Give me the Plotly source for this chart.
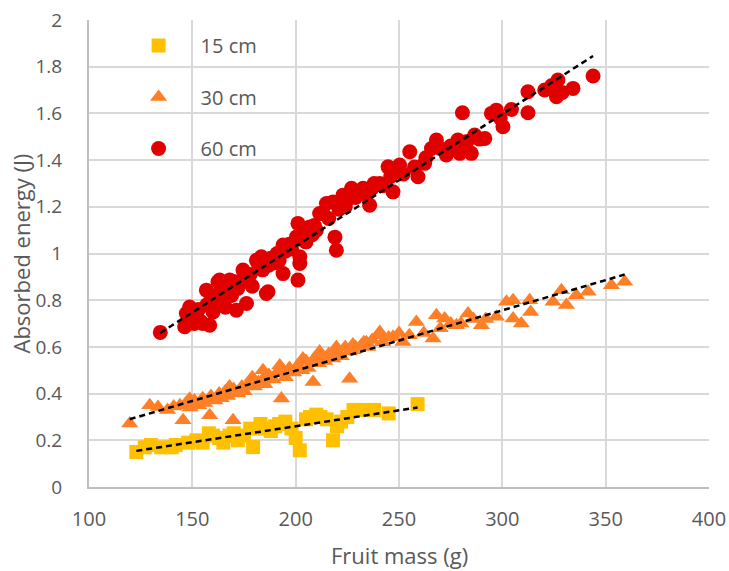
import numpy as np
import plotly.graph_objects as go

# ---- data ----
mass_15 = [122.9, 127, 130, 135, 140, 142, 148, 152, 155, 158, 160, 163, 165, 168, 170, 172,
           175, 178, 179.4, 183, 185, 188, 190, 192, 195, 198, 200, 202, 205, 207, 210, 212,
           215, 218.1, 220, 222, 225, 228, 232.6, 238, 245, 259]
energy_15 = [0.150, 0.17, 0.18, 0.17, 0.17, 0.18, 0.19, 0.20, 0.19, 0.23, 0.22, 0.21, 0.19, 0.22, 0.23, 0.20,
             0.22, 0.25, 0.171, 0.27, 0.25, 0.24, 0.26, 0.27, 0.28, 0.25, 0.21, 0.157, 0.29, 0.30, 0.31, 0.30,
             0.29, 0.200, 0.26, 0.28, 0.30, 0.33, 0.33, 0.33, 0.315, 0.355]

mass_30 = [119.7, 129.4, 133.4, 138, 141, 144, 145.5, 147, 148.7, 149, 151, 153, 155, 156, 158.4, 159, 161,
           163, 164, 166, 167, 168, 169.7, 170, 172, 174, 175, 177, 179, 180, 182, 184, 184.2, 185, 187,
           189, 191, 192.3, 193.1, 194, 195, 197, 199, 201, 203, 203.5, 205, 206, 208.4, 209, 211, 211.6, 213, 214,
           216, 218, 219.7, 220, 222, 224, 226.1, 226, 227.7, 227.7, 229, 231.8, 233, 234.2, 235, 237, 240.7, 240.7,
           242, 245, 247.1, 250, 251.9, 255, 258.4, 262, 266.5, 268.1, 270, 272.1, 275, 277.8, 280, 283.4,
           286, 289.9, 292, 297.1, 302, 305.2, 305.2, 309.2, 313.2, 313.7, 324.5, 328.6, 331, 335.8,
           341.5, 352.8, 359.2]
energy_30 = [0.272, 0.35, 0.343, 0.33, 0.345, 0.35, 0.286, 0.36, 0.378, 0.34, 0.37, 0.35, 0.38, 0.36, 0.307, 0.39, 0.37,
             0.40, 0.38, 0.41, 0.39, 0.43, 0.286, 0.42, 0.40, 0.43, 0.41, 0.44, 0.47, 0.43, 0.45, 0.46, 0.50, 0.44, 0.48,
             0.46, 0.49, 0.52, 0.379, 0.50, 0.47, 0.51, 0.49, 0.52, 0.50, 0.55, 0.54, 0.51, 0.45, 0.55, 0.53, 0.58, 0.56, 0.54,
             0.57, 0.55, 0.60, 0.58, 0.56, 0.60, 0.464, 0.58, 0.586, 0.61, 0.60, 0.607, 0.62, 0.62, 0.60, 0.63, 0.664, 0.65,
             0.62, 0.64, 0.643, 0.66, 0.621, 0.65, 0.707, 0.66, 0.636, 0.736, 0.68, 0.722, 0.70, 0.693, 0.70, 0.743,
             0.72, 0.693, 0.72, 0.729, 0.793, 0.80, 0.722, 0.70, 0.80, 0.75, 0.793, 0.843, 0.779, 0.821,
             0.836, 0.864, 0.879]

mass_60 = [134.5, 146.3, 147.1, 148.7, 150, 151, 152, 153, 154, 155, 156.8, 157, 158.4, 159, 160, 161,
           162.4, 163.2, 164, 165, 166, 167, 168.1, 169, 170, 171.3, 172, 174.5, 175.3, 176.2, 177, 178,
           179, 181, 181.8, 183.4, 184, 185.8, 186.6, 187, 188, 190, 191, 192, 193.9, 193.9, 195, 197,
           198, 200.4, 201.1, 202, 202, 201.1, 203, 204, 205, 206.8, 208, 209, 210, 211.6, 213.2, 214.9,
           216, 218.1, 219.7, 219, 221, 222.9, 224, 225, 227, 229, 230, 232.6, 234, 235.8, 237, 238,
           240.7, 242, 244.7, 246, 247.1, 248, 250.3, 252, 255.2, 257.5, 259.2, 262.4, 263, 265.7, 268.1, 270,
           272.9, 275, 278.5, 279.4, 280.7, 283, 285, 286.6, 289, 291.5, 294.7, 297.1, 299, 300.3, 304.4,
           312.4, 312.4, 320.5, 324, 326.2, 326.9, 329, 334.2, 343.9]
energy_60 = [0.662, 0.686, 0.743, 0.771, 0.72, 0.70, 0.74, 0.76, 0.71, 0.70, 0.843, 0.78, 0.693, 0.80, 0.75, 0.82,
             0.879, 0.886, 0.80, 0.84, 0.77, 0.86, 0.886, 0.82, 0.88, 0.757, 0.85, 0.929, 0.90, 0.786, 0.88, 0.91,
             0.86, 0.971, 0.957, 0.986, 0.93, 0.829, 0.836, 0.95, 0.98, 0.96, 1.00, 0.97, 1.036, 0.914, 1.01, 1.04,
             1.02, 1.071, 0.886, 0.957, 0.986, 1.129, 1.06, 1.09, 1.05, 1.114, 1.08, 1.12, 1.10, 1.171, 1.171, 1.214,
             1.15, 1.221, 1.014, 1.07, 1.19, 1.250, 1.20, 1.23, 1.279, 1.24, 1.26, 1.279, 1.25, 1.207, 1.28, 1.30,
             1.300, 1.29, 1.371, 1.33, 1.264, 1.35, 1.379, 1.34, 1.436, 1.37, 1.329, 1.386, 1.41, 1.450, 1.486, 1.45,
             1.422, 1.46, 1.486, 1.429, 1.603, 1.48, 1.429, 1.507, 1.49, 1.493, 1.600, 1.614, 1.58, 1.543, 1.617,
             1.693, 1.603, 1.700, 1.72, 1.671, 1.743, 1.69, 1.707, 1.760]

series_names = ["15 cm", "30 cm", "60 cm"]
x_ticks = [100, 150, 200, 250, 300, 350, 400]
y_ticks = [0, 0.2, 0.4, 0.6, 0.8, 1, 1.2, 1.4, 1.6, 1.8, 2]
y_ticktext = ["0", "0.2", "0.4", "0.6", "0.8", "1", "1.2", "1.4", "1.6", "1.8", "2"]
x_title = "Fruit mass (g)"
y_title = "Absorbed energy (J)"

# ---- styles ----
colors = ["#FFC000", "#FF7F27", "#E00000"]
symbols = ["square", "triangle-up", "circle"]
sizes = [14, 15, 15]
FONT = "Open Sans"
GREY = "#595959"

fig = go.Figure()
data = [(mass_15, energy_15), (mass_30, energy_30), (mass_60, energy_60)]
for i, (xs, ys) in enumerate(data):
    fig.add_trace(go.Scatter(
        x=xs, y=ys, mode="markers", name=series_names[i],
        legendgroup=series_names[i],
        marker=dict(symbol=symbols[i], size=sizes[i], color=colors[i], line=dict(width=0)),
    ))

# linear trendlines fitted to each series, spanning the data range
for i, (xs, ys) in enumerate(data):
    xa = np.array(xs, dtype=float)
    ya = np.array(ys, dtype=float)
    k, b = np.polyfit(xa, ya, 1)
    xl = np.array([xa.min(), xa.max()])
    fig.add_trace(go.Scatter(
        x=xl, y=k * xl + b, mode="lines", showlegend=False, hoverinfo="skip",
        line=dict(color="black", width=2.5, dash="6px,4px"),
    ))

fig.update_layout(
    width=729, height=571,
    margin=dict(l=89, r=20, t=20, b=84, autoexpand=False),
    paper_bgcolor="white", plot_bgcolor="white",
    font=dict(family=FONT, color=GREY, size=20),
    showlegend=True,
    legend=dict(
        x=0.0445, y=0.987, xanchor="left", yanchor="top",
        bgcolor="rgba(0,0,0,0)", borderwidth=0,
        font=dict(family=FONT, size=20, color=GREY),
        itemwidth=74, tracegroupgap=22.5,
    ),
    annotations=[
        dict(text=x_title, xref="paper", yref="paper", x=0.5, y=0, yshift=-68,
             xanchor="center", yanchor="middle", showarrow=False,
             font=dict(family=FONT, size=22, color=GREY)),
        dict(text=y_title, xref="paper", yref="paper", x=0, y=0.5, xshift=-69,
             xanchor="center", yanchor="middle", showarrow=False, textangle=-90,
             font=dict(family=FONT, size=22, color=GREY)),
    ],
)
fig.update_xaxes(
    range=[100, 400], tickvals=x_ticks, ticktext=[str(v) for v in x_ticks],
    showgrid=True, gridcolor="#D9D9D9", gridwidth=1.6,
    showline=True, linecolor="#BFBFBF", linewidth=2, zeroline=False,
    ticks="", ticklabelstandoff=13, automargin=False,
    tickfont=dict(family=FONT, size=20, color=GREY),
)
fig.update_yaxes(
    range=[0, 2], tickvals=y_ticks, ticktext=y_ticktext,
    showgrid=True, gridcolor="#D9D9D9", gridwidth=1.6,
    showline=True, linecolor="#BFBFBF", linewidth=2, zeroline=False,
    ticks="", ticklabelstandoff=21, automargin=False,
    tickfont=dict(family=FONT, size=19, color=GREY),
)

fig.write_html("out.html", config={"displayModeBar": False},
               post_script="document.body.style.margin='0';")
